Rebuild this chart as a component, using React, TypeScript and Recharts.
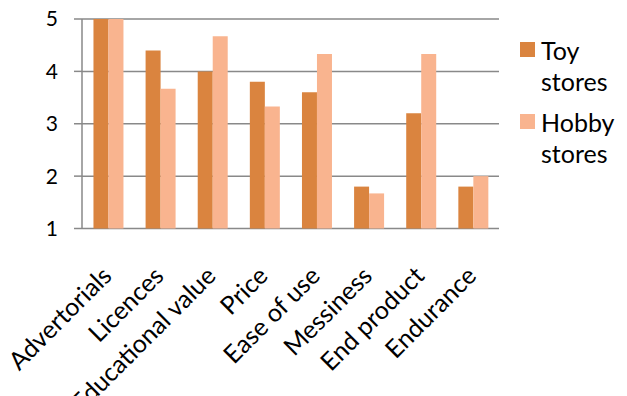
import React from "react";
import { BarChart, Bar, XAxis, YAxis, CartesianGrid, Legend } from "recharts";

const categories = ["Advertorials", "Licences", "Educational value", "Price", "Ease of use", "Messiness", "End product", "Endurance"];
const toyStores = [5, 4.4, 4.0, 3.8, 3.6, 1.8, 3.2, 1.8];
const hobbyStores = [5, 3.67, 4.67, 3.33, 4.33, 1.67, 4.33, 2.0];
const seriesNames = ["Toy stores", "Hobby stores"];
const yTicks = [1, 2, 3, 4, 5];
const boundaryTicks = [0, 1, 2, 3, 4, 5, 6, 7, 8];

const data = categories.map((c, i) => ({ name: c, toy: toyStores[i], hobby: hobbyStores[i] }));

const FONT = "Lato, 'Open Sans', sans-serif";
const TOY = "#DA843F";
const HOBBY = "#F9B48F";
const GRID = "#898989";

const LabelTick = (props: any) => {
  const { x, y, payload } = props;
  return (
    <g transform={`translate(${x + 5},${y + 49})`}>
      <text transform="rotate(-45)" textAnchor="end" fontFamily={FONT} fontSize={25} fill="#000">
        {payload.value}
      </text>
    </g>
  );
};

const LegendContent = (props: any) => {
  const payload = [...(props.payload || [])].sort(
    (a: any, b: any) => seriesNames.indexOf(a.value) - seriesNames.indexOf(b.value)
  );
  return (
    <div style={{ fontFamily: FONT }}>
      {payload.map((p: any, i: number) => (
        <div key={i} style={{ display: "flex", alignItems: "flex-start", marginBottom: 10 }}>
          <span style={{ display: "inline-block", width: 15, height: 15, background: p.color, marginTop: 7, flex: "none" }} />
          <span style={{ marginLeft: 6, fontSize: 25, lineHeight: "31px", width: 80, color: "#000" }}>{p.value}</span>
        </div>
      ))}
    </div>
  );
};

export default function App() {
  return (
    <div style={{ position: "absolute", left: 0, top: 0, background: "#fff" }}>
      <BarChart
        width={627}
        height={396}
        data={data}
        margin={{ top: 19, right: 128, left: 0, bottom: 0 }}
        barCategoryGap="22%"
        barGap={0}
      >
        <CartesianGrid horizontal vertical={false} stroke={GRID} strokeWidth={1.5} />
        <XAxis
          xAxisId="ticks"
          type="number"
          domain={[0, 8]}
          ticks={boundaryTicks}
          allowDataOverflow
          height={0}
          tick={false}
          tickSize={6}
          tickLine={{ stroke: GRID, strokeWidth: 1.5 }}
          axisLine={{ stroke: GRID, strokeWidth: 1.5 }}
        />
        <XAxis
          dataKey="name"
          xAxisId="labels"
          height={167.5}
          interval={0}
          tickLine={false}
          axisLine={false}
          tickSize={0}
          tickMargin={0}
          tick={<LabelTick />}
        />
        <YAxis
          domain={[1, 5]}
          ticks={yTicks}
          width={82}
          tickSize={8}
          tickMargin={16}
          tick={{ fontFamily: FONT, fontSize: 21, fill: "#000" }}
          tickLine={{ stroke: GRID, strokeWidth: 1.5 }}
          axisLine={{ stroke: GRID, strokeWidth: 1.5 }}
        />
        <Legend
          layout="horizontal"
          verticalAlign="middle"
          align="center"
          wrapperStyle={{ position: "absolute", left: 520, top: 35, width: 110 }}
          content={<LegendContent />}
        />
        <Bar dataKey="toy" name={seriesNames[0]} xAxisId="labels" fill={TOY} isAnimationActive={false} />
        <Bar dataKey="hobby" name={seriesNames[1]} xAxisId="labels" fill={HOBBY} isAnimationActive={false} />
      </BarChart>
    </div>
  );
}
